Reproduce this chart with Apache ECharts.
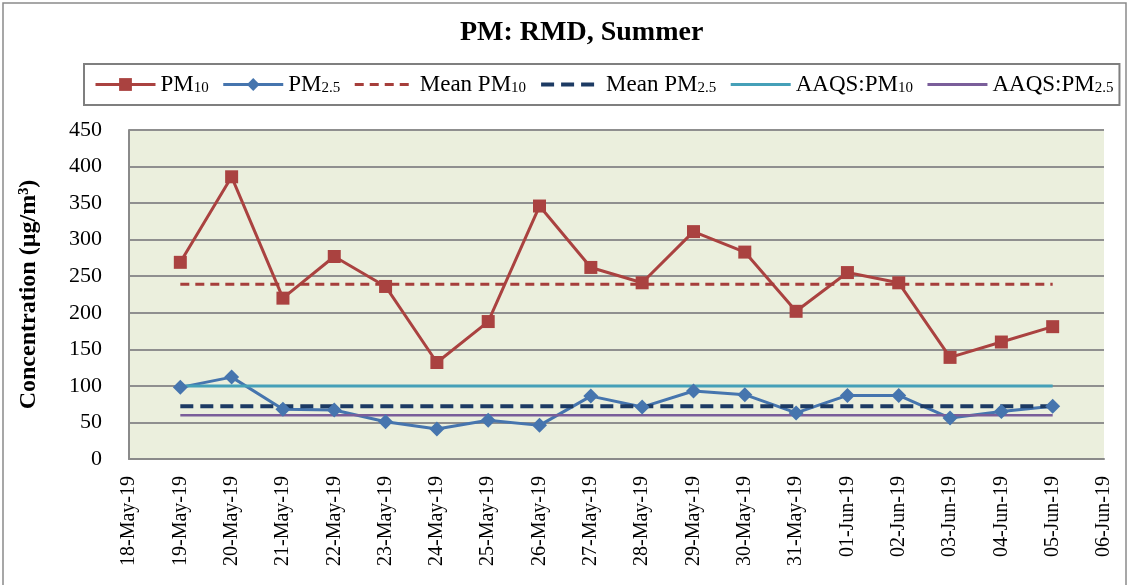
<!DOCTYPE html>
<html>
<head>
<meta charset="utf-8">
<script src="https://cdn.jsdelivr.net/npm/echarts@6/dist/echarts.min.js"></script>
<style>
  html, body { margin: 0; padding: 0; background: #fff; }
  #chart { width: 1130px; height: 585px; }
</style>
</head>
<body>
<div id="chart"></div>
<script>
// tick labels along the x axis (one per day, 18-May to 06-Jun)
const dayLabels = ['18-May-19', '19-May-19', '20-May-19', '21-May-19', '22-May-19', '23-May-19',
  '24-May-19', '25-May-19', '26-May-19', '27-May-19', '28-May-19', '29-May-19', '30-May-19',
  '31-May-19', '01-Jun-19', '02-Jun-19', '03-Jun-19', '04-Jun-19', '05-Jun-19', '06-Jun-19'];

// sampled days (19-May .. 05-Jun)
const sampleDays = ['19-May-19', '20-May-19', '21-May-19', '22-May-19', '23-May-19', '24-May-19',
  '25-May-19', '26-May-19', '27-May-19', '28-May-19', '29-May-19', '30-May-19', '31-May-19',
  '01-Jun-19', '02-Jun-19', '03-Jun-19', '04-Jun-19', '05-Jun-19'];

const pm10 = [269, 386, 220, 277, 236, 132, 188, 346, 262, 241, 311, 283, 202, 255, 241, 139, 160, 181];
const pm25 = [98, 112, 68, 67, 51, 41, 53, 46, 86, 71, 93, 88, 63, 87, 87, 56, 65, 72];

const meanPm10 = 239;
const meanPm25 = 72;
const aaqsPm10 = 100;
const aaqsPm25 = 60;

const yTicks = [0, 50, 100, 150, 200, 250, 300, 350, 400, 450];

const dayIndex = d => dayLabels.indexOf(d);
const toPairs = vals => sampleDays.map((d, i) => [dayIndex(d), vals[i]]);
const flat = v => [[dayIndex(sampleDays[0]), v], [dayIndex(sampleDays[sampleDays.length - 1]), v]];

const serif = '"Liberation Serif", "Times New Roman", serif';

const legendRich = {
  n: { fontFamily: serif, fontSize: 23, color: '#000' },
  s: { fontFamily: serif, fontSize: 15, color: '#000', padding: [8, 0, 0, 0] }
};
const legendText = {
  'PM10': '{n|PM}{s|10}',
  'PM2.5': '{n|PM}{s|2.5}',
  'Mean PM10': '{n|Mean PM}{s|10}',
  'Mean PM2.5': '{n|Mean PM}{s|2.5}',
  'AAQS:PM10': '{n|AAQS:PM}{s|10}',
  'AAQS:PM2.5': '{n|AAQS:PM}{s|2.5}'
};
const noMarker = { opacity: 0 };

const chart = echarts.init(document.getElementById('chart'));
chart.setOption({
  backgroundColor: '#fff',
  animation: false,
  title: {
    text: 'PM: RMD, Summer',
    left: 455,
    top: 14,
    textStyle: { fontFamily: serif, fontSize: 28, fontWeight: 'bold', color: '#000' }
  },
  graphic: [{
    type: 'rect',
    shape: { x: 3, y: 3, width: 1123, height: 590 },
    style: { fill: 'none', stroke: '#8a8a8a', lineWidth: 1.5 },
    silent: true
  }],
  legend: {
    left: 84,
    top: 64,
    padding: [9, 6, 9, 10],
    itemGap: 13,
    itemWidth: 60,
    itemHeight: 16,
    borderColor: '#7f7f7f',
    borderWidth: 2,
    formatter: name => legendText[name],
    textStyle: { rich: legendRich },
    data: [
      { name: 'PM10', lineStyle: { width: 3 } },
      { name: 'PM2.5', lineStyle: { width: 3 } },
      { name: 'Mean PM10', itemStyle: noMarker, lineStyle: { width: 3 } },
      { name: 'Mean PM2.5', itemStyle: noMarker, lineStyle: { width: 4 } },
      { name: 'AAQS:PM10', itemStyle: noMarker, lineStyle: { width: 3 } },
      { name: 'AAQS:PM2.5', itemStyle: noMarker, lineStyle: { width: 3 } }
    ]
  },
  grid: {
    left: 129, right: 26, top: 130, bottom: 126,
    show: true,
    backgroundColor: '#EBEFDD',
    borderWidth: 0
  },
  xAxis: {
    type: 'value',
    min: 0,
    max: dayLabels.length - 1,
    interval: 1,
    splitLine: { show: false },
    axisLine: { show: true, lineStyle: { color: '#8a8a8a', width: 2 } },
    axisTick: { show: false },
    axisLabel: {
      rotate: 90,
      margin: 17,
      fontFamily: serif,
      fontSize: 20,
      color: '#000',
      formatter: v => dayLabels[v] || ''
    }
  },
  yAxis: {
    type: 'value',
    min: yTicks[0],
    max: yTicks[yTicks.length - 1],
    interval: 50,
    name: 'Concentration (µg/m³)',
    nameLocation: 'middle',
    nameGap: 88,
    nameTextStyle: { fontFamily: serif, fontSize: 24, fontWeight: 'bold', color: '#000' },
    axisLine: { show: true, lineStyle: { color: '#8a8a8a', width: 2 } },
    axisTick: { show: false },
    axisLabel: { fontFamily: serif, fontSize: 22, color: '#000', margin: 27 },
    splitLine: { lineStyle: { color: '#8f8f8f', width: 2 } }
  },
  series: [
    {
      name: 'PM10', type: 'line', data: toPairs(pm10),
      symbol: 'rect', symbolSize: 13,
      lineStyle: { color: '#AA4240', width: 3 },
      itemStyle: { color: '#AA4240' }
    },
    {
      name: 'PM2.5', type: 'line', data: toPairs(pm25),
      symbol: 'diamond', symbolSize: 15,
      lineStyle: { color: '#4675AE', width: 3 },
      itemStyle: { color: '#4675AE' }
    },
    {
      name: 'Mean PM10', type: 'line', data: flat(meanPm10),
      symbol: 'none',
      lineStyle: { color: '#A63E3B', width: 3, type: [9, 6] },
      itemStyle: { color: '#A63E3B' }
    },
    {
      name: 'Mean PM2.5', type: 'line', data: flat(meanPm25),
      symbol: 'none',
      lineStyle: { color: '#1C3A63', width: 4, type: [13, 7] },
      itemStyle: { color: '#1C3A63' }
    },
    {
      name: 'AAQS:PM10', type: 'line', data: flat(aaqsPm10),
      symbol: 'none',
      lineStyle: { color: '#45A0B8', width: 3 },
      itemStyle: { color: '#45A0B8' }
    },
    {
      name: 'AAQS:PM2.5', type: 'line', data: flat(aaqsPm25),
      symbol: 'none',
      lineStyle: { color: '#7A5E9A', width: 2.5 },
      itemStyle: { color: '#7A5E9A' }
    }
  ]
});
</script>
</body>
</html>
